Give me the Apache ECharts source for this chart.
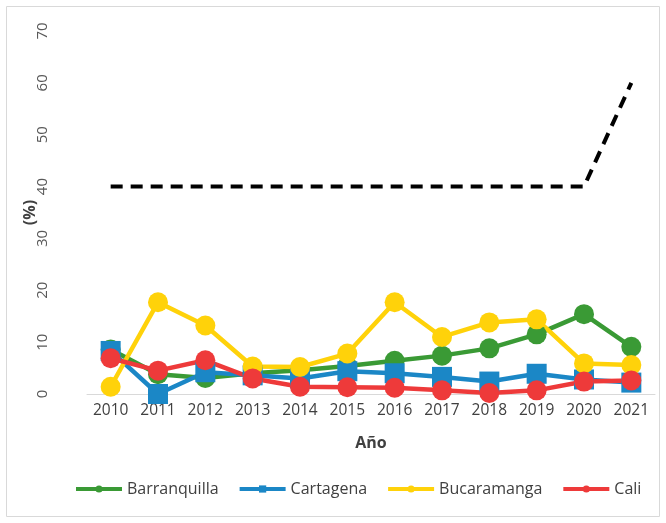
<!DOCTYPE html>
<html><head><meta charset="utf-8">
<script src="https://cdn.jsdelivr.net/npm/echarts@6/dist/echarts.min.js"></script>
<style>html,body{margin:0;padding:0;background:#fff}#c{width:666px;height:523px}</style>
</head><body><div id="c"></div>
<script>
const years = ['2010','2011','2012','2013','2014','2015','2016','2017','2018','2019','2020','2021'];
const barranquilla = [8.6, 3.8, 3.1, 4.0, 4.6, 5.4, 6.4, 7.4, 8.8, 11.5, 15.4, 9.1];
const cartagena = [8.3, 0.0, 4.2, 3.6, 3.0, 4.4, 4.0, 3.3, 2.4, 3.9, 2.8, 2.2];
const bucaramanga = [1.4, 17.7, 13.2, 5.3, 5.2, 7.8, 17.7, 11.0, 13.8, 14.4, 5.9, 5.6];
const cali = [6.9, 4.5, 6.5, 3.0, 1.4, 1.3, 1.2, 0.7, 0.2, 0.7, 2.4, 2.6];
const limite = [40, 40, 40, 40, 40, 40, 40, 40, 40, 40, 40, 60];
const yTicks = {min: 0, max: 70, interval: 10};

const font = 'Open Sans';
const chart = echarts.init(document.getElementById('c'));
function s(name, data, color, symbol) {
  return {name, type: 'line', data, symbol, symbolSize: 20, showSymbol: true,
    lineStyle: {color, width: 4.5}, itemStyle: {color}, color: color, z: 2};
}
chart.setOption({
  animation: false,
  graphic: [{type: 'rect', shape: {x: 6.5, y: 6.5, width: 653, height: 510}, style: {fill: 'none', stroke: '#d9d9d9', lineWidth: 1}}],
  grid: {left: 87, right: 11, top: 31, bottom: 129},
  legend: {
    bottom: 21, left: 69, itemWidth: 46, itemHeight: 9, itemGap: 19,
    lineStyle: {width: 4},
    textStyle: {fontFamily: font, fontSize: 16, color: '#404040'},
    data: ['Barranquilla', 'Cartagena', 'Bucaramanga', 'Cali']
  },
  xAxis: {
    type: 'category', data: years, boundaryGap: true,
    name: 'Año', nameLocation: 'middle', nameGap: 41,
    nameTextStyle: {fontFamily: font, fontSize: 16, fontWeight: 'bold', color: '#404040'},
    axisLine: {lineStyle: {color: '#d9d9d9', width: 1}}, axisTick: {show: false},
    axisLabel: {fontFamily: font, fontSize: 15.5, color: '#404040', margin: 9, interval: 0}
  },
  yAxis: {
    type: 'value', min: yTicks.min, max: yTicks.max, interval: yTicks.interval,
    name: '(%)', nameLocation: 'middle', nameGap: 49, nameRotate: 90, nameMoveOverlap: false,
    nameTextStyle: {fontFamily: font, fontSize: 16, fontWeight: 'bold', color: '#404040'},
    axisLine: {show: false}, axisTick: {show: false}, splitLine: {show: false},
    axisLabel: {fontFamily: font, fontSize: 15, color: '#595959', rotate: 90, margin: 44, align: 'center', verticalAlign: 'middle'}
  },
  series: [
    s('Barranquilla', barranquilla, '#3A9A35', 'circle'),
    s('Cartagena', cartagena, '#1B87C6', 'rect'),
    s('Bucaramanga', bucaramanga, '#FFD20A', 'circle'),
    s('Cali', cali, '#EE3A3A', 'circle'),
    {name: 'Límite', type: 'line', data: limite, symbol: 'none',
     lineStyle: {color: '#000', width: 4, type: [12, 8]}, z: 3}
  ]
});
</script></body></html>
